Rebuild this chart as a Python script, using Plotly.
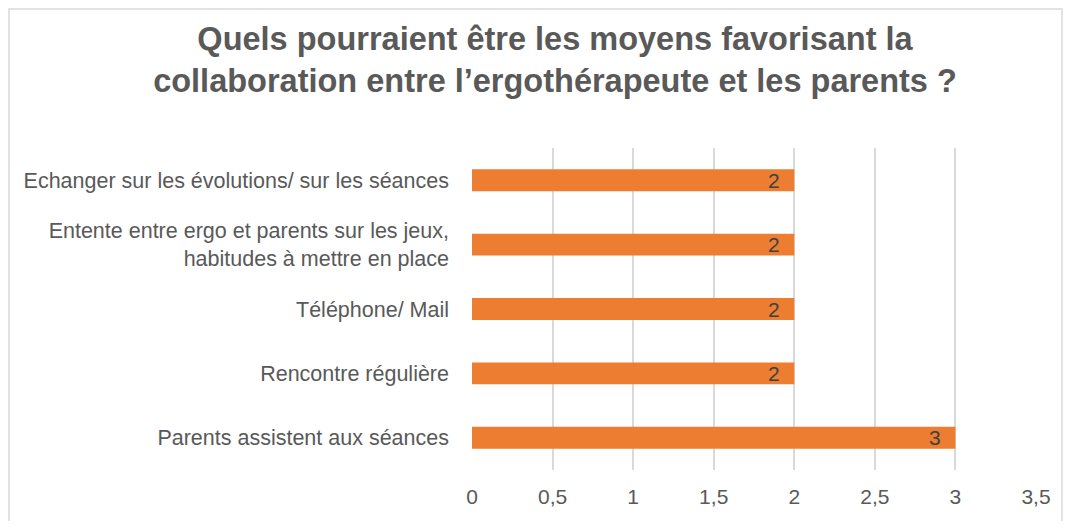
import plotly.graph_objects as go

# -----------------------------
# Data
# -----------------------------
CATEGORIES = [
    "Echanger sur les évolutions/ sur les séances",
    "Entente entre ergo et parents sur les jeux,<br>habitudes à mettre en place",
    "Téléphone/ Mail",
    "Rencontre régulière",
    "Parents assistent aux séances",
]
VALUES = [2, 2, 2, 2, 3]
TICK_VALS = [0, 0.5, 1, 1.5, 2, 2.5, 3, 3.5]

TITLE = ("Quels pourraient être les moyens favorisant la<br>"
         "collaboration entre l’ergothérapeute et les parents ?")

BAR_COLOR = "#ED7D31"
TEXT_GREY = "#595959"
FONT = "Liberation Sans"

# page has an 8px body margin, so the figure is sized to fit inside it
W, H = 1055, 513
L, R, T, B = 464, 27, 140, 51

fig = go.Figure()
fig.add_trace(go.Bar(
    x=VALUES,
    y=CATEGORIES,
    orientation="h",
    marker=dict(color=BAR_COLOR, line=dict(width=0)),
    texttemplate="%{x}\u00a0\u00a0",
    textposition="inside",
    insidetextanchor="end",
    textangle=0,
    constraintext="none",
    textfont=dict(color="#404040", size=21, family=FONT),
    cliponaxis=False,
))

# light frame around the whole chart (paper coords extend beyond plot area)
pw, ph = W - L - R, H - T - B
fig.add_shape(
    type="rect", xref="paper", yref="paper",
    x0=(1 - L) / pw, x1=(1054 - L) / pw,
    y0=(H - B - 540) / ph, y1=(H - B - 1) / ph,
    line=dict(color="#d9d9d9", width=1.5), fillcolor="rgba(0,0,0,0)",
    layer="below",
)

fig.update_layout(
    width=W, height=H,
    margin=dict(l=L, r=R, t=T, b=B),
    paper_bgcolor="white", plot_bgcolor="white",
    separators=", ",
    showlegend=False,
    bargap=0.66,
    font=dict(family=FONT, color=TEXT_GREY, size=21),
    title=dict(
        text="<b>" + TITLE + "</b>",
        x=547 / W, xanchor="center",
        yref="container", y=1 - 42 / H, yanchor="middle",
        font=dict(size=32.5, color=TEXT_GREY, family=FONT),
    ),
    xaxis=dict(
        range=[0, 3.5], tickvals=TICK_VALS,
        showgrid=True, gridcolor="#d9d9d9", gridwidth=1.5,
        zeroline=False, showline=False, ticks="",
        tickfont=dict(size=21, color=TEXT_GREY),
        ticklabelstandoff=12,
    ),
    yaxis=dict(
        autorange="reversed", showgrid=False, zeroline=False,
        showline=False, ticks="",
        tickfont=dict(size=21.5, color=TEXT_GREY),
        ticklabelstandoff=22,
    ),
)

fig.write_html("out.html")
